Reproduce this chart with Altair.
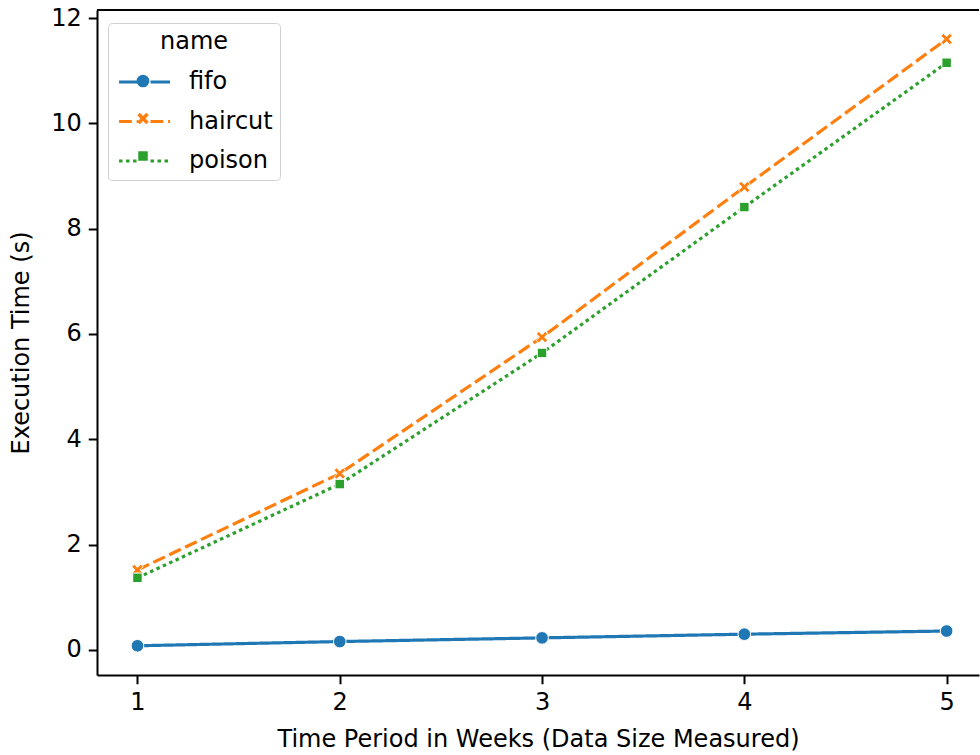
import altair as alt
import pandas as pd

weeks = [1, 2, 3, 4, 5]
names = ["fifo", "haircut", "poison"]
fifo = [0.08, 0.16, 0.23, 0.30, 0.36]
haircut = [1.52, 3.35, 5.94, 8.79, 11.60]
poison = [1.37, 3.15, 5.64, 8.41, 11.15]
colors = ["#1f77b4", "#ff7f0e", "#2ca02c"]

rows = []
for n, vals in zip(names, [fifo, haircut, poison]):
    for w, v in zip(weeks, vals):
        rows.append({"week": w, "time": v, "name": n})
df = pd.DataFrame(rows)

W, H = 882, 665
FONT = "DejaVu Sans"
FS = 24

X_PATH = ("M0,-0.396L0.509,-0.905L0.905,-0.509L0.396,0L0.905,0.509L0.509,0.905"
          "L0,0.396L-0.509,0.905L-0.905,0.509L-0.396,0L-0.905,-0.509L-0.509,-0.905Z")
SQ_PATH = "M-0.75,-0.75H0.75V0.75H-0.75Z"
LINE_PATH = "M-0.83,0L0.79,0M1.79,0L3.42,0"

x_enc = alt.X("week:Q", scale=alt.Scale(domain=[0.8, 5.16], nice=False, zero=False),
              axis=alt.Axis(values=weeks, format="d", title="Time Period in Weeks (Data Size Measured)",
                            titlePadding=13))
y_enc = alt.Y("time:Q", scale=alt.Scale(domain=[-0.475, 12.152], nice=False, zero=False),
              axis=alt.Axis(values=[0, 2, 4, 6, 8, 10, 12], title="Execution Time (s)", titlePadding=17))

line_leg = alt.Legend(orient="none", legendX=11, legendY=13, padding=7,
                      title="name", titleFontSize=FS, titleFont=FONT, titleFontWeight="normal",
                      titleAnchor="middle", titlePadding=14, titleColor="black",
                      labelFontSize=FS, labelFont=FONT, labelColor="black", labelOffset=46,
                      rowPadding=13.5, strokeColor="#d0d0d0", cornerRadius=4,
                      symbolType=LINE_PATH, symbolSize=576, symbolStrokeWidth=3.2)

pt_leg = alt.Legend(orient="none", legendX=27, legendY=52, padding=7, title=None,
                    labelExpr="''", labelFontSize=FS, rowPadding=13.5,
                    symbolSize=160, symbolStrokeColor="white", symbolStrokeWidth=1,
                    symbolOpacity=1)

lines = alt.Chart(df).mark_line(strokeWidth=3.2).encode(
    x=x_enc, y=y_enc,
    color=alt.Color("name:N", scale=alt.Scale(domain=names, range=colors), legend=line_leg),
    strokeDash=alt.StrokeDash("name:N",
                              scale=alt.Scale(domain=names, range=[[1, 0], [12.8, 4.8], [3.5, 3.5]]),
                              legend=line_leg),
)

points = alt.Chart(df).mark_point(filled=True, size=160, stroke="white", strokeWidth=1, opacity=1).encode(
    x=x_enc, y=y_enc,
    color=alt.Color("name:N", scale=alt.Scale(domain=names, range=colors), legend=pt_leg),
    shape=alt.Shape("name:N", scale=alt.Scale(domain=names, range=["circle", X_PATH, SQ_PATH]),
                    legend=pt_leg),
)

top = alt.Chart(df).mark_rule(color="black", strokeWidth=2).encode(
    x=alt.value(0), x2=alt.value(W), y=alt.value(0)
)

chart = alt.layer(lines, points, top).resolve_scale(
    color="independent", strokeDash="independent", shape="independent"
).properties(
    width=W, height=H,
    background="white",
    autosize=alt.AutoSizeParams(type="none"),
    padding={"left": 97, "top": 10, "right": 1, "bottom": 80},
).configure_view(stroke=None).configure_axis(
    grid=False, domainColor="black", domainWidth=2, tickColor="black", tickWidth=2,
    tickSize=8.75, labelPadding=7, labelFont=FONT, labelFontSize=FS, labelColor="black",
    titleFont=FONT, titleFontSize=FS, titleFontWeight="normal", titleColor="black",
)

chart.save("out.html", embed_options={"renderer": "svg", "actions": False})
